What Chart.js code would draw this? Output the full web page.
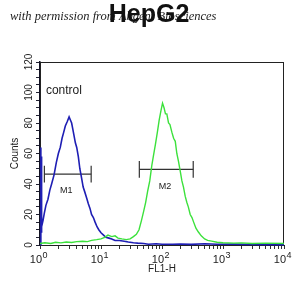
<!DOCTYPE html>
<html>
<head>
<meta charset="utf-8">
<script src="https://cdn.jsdelivr.net/npm/chart.js@4"></script>
<style>
  html, body { margin: 0; padding: 0; background: #fff; }
  #wrap { width: 305px; height: 296px; }
</style>
</head>
<body>
<div id="wrap"><canvas id="flowChart" width="305" height="296"></canvas></div>
<script>
// HepG2 flow histogram: control (blue) vs antibody (green)

const controlX = [1.02, 1.03, 1.036, 1.045, 1.055, 1.07, 1.12, 1.18, 1.25, 1.35, 1.45, 1.55, 1.7, 1.85, 2.0, 2.15, 2.3, 2.45, 2.6, 2.8, 3.0, 3.15, 3.3, 3.45, 3.6, 3.8, 4.0, 4.25, 4.5, 4.8, 5.1, 5.4, 5.8, 6.2, 6.6, 7.0, 7.5, 8.0, 8.6, 9.2, 10, 11, 12, 13.5, 15, 17, 20, 24, 28, 34, 40, 50, 60, 80, 100, 150, 200, 300, 500, 800, 1500, 3000, 10000]
const controlY = [0, 64, 12, 58, 8, 12, 16, 21, 26, 30, 36, 40, 46, 54, 60, 64, 70, 74, 78, 81, 84, 82, 80, 76, 72, 67, 64, 58, 50, 44, 38, 35, 31, 27, 24, 20, 18, 15, 12, 10, 8, 6.5, 5, 4.5, 4, 3, 3, 2.5, 2, 1.5, 1.2, 1, 0.5, 0.8, 0.5, 0.5, 0.7, 0.4, 0.8, 0.5, 0.6, 0.3, 0.2]

const sampleX = [1, 1.2, 1.5, 1.8, 2.2, 2.7, 3.3, 4, 5, 6, 7, 8.5, 10, 11.5, 13, 15, 17, 19, 22, 26, 30, 34, 38, 42, 46, 50, 54, 58, 63, 68, 72, 78, 84, 90, 96, 102, 108, 114, 120, 128, 135, 145, 155, 165, 175, 186, 200, 212, 225, 240, 255, 270, 290, 310, 330, 360, 395, 440, 500, 560, 650, 800, 1000, 1500, 2000, 3000, 5000, 10000]
const sampleY = [1, 1.5, 1, 1.8, 1.4, 2, 1.6, 2.2, 2.5, 2.2, 3, 3.5, 4, 5, 6.5, 5.5, 6, 4.5, 4, 3.5, 4, 5.5, 7, 10, 16, 22, 28, 35, 42, 52, 58, 66, 74, 82, 88, 93, 90, 86, 86, 80, 79, 74, 70, 68, 60, 55, 48, 42, 38, 32, 28, 25, 20, 18, 15, 11, 8.5, 6, 4, 3, 2.5, 1.8, 1.5, 1.2, 1.4, 1, 1.2, 1]

const xTicks = [1, 2, 3, 4, 5, 6, 7, 8, 9, 10, 20, 30, 40, 50, 60, 70, 80, 90, 100, 200, 300, 400, 500, 600, 700, 800, 900, 1000, 2000, 3000, 4000, 5000, 6000, 7000, 8000, 9000, 10000]
const xDecades = [1, 10, 100, 1000, 10000]
const xExponents = ["0", "1", "2", "3", "4"]

// markers: [from, to], level, and label position
const m1Range = [1.18, 6.9]
const m1Level = 46.5
const m2Range = [42.5, 325]
const m2Level = 49.6
const markerHalf = 5.5
const markerLabels = [
  { text: "M1", x: 2.7, y: 36 },
  { text: "M2", x: 112, y: 38.5 },
]

function pts(xs, ys) {
  return xs.map((x, i) => ({ x: x, y: ys[i] }))
}

function markerSets(range, level) {
  const base = { borderColor: "#333", borderWidth: 1.2, pointRadius: 0, showLine: true, fill: false }
  return [
    Object.assign({ data: [{ x: range[0], y: level }, { x: range[1], y: level }] }, base),
    Object.assign({ data: [{ x: range[0], y: level - markerHalf }, { x: range[0], y: level + markerHalf }] }, base),
    Object.assign({ data: [{ x: range[1], y: level - markerHalf }, { x: range[1], y: level + markerHalf }] }, base),
  ]
}

const decorPlugin = {
  id: "decor",
  beforeDraw(chart) {
    const ctx = chart.ctx
    ctx.save()
    ctx.fillStyle = "#fff"
    ctx.fillRect(0, 0, chart.width, chart.height)
    // watermark behind the title
    ctx.fillStyle = "#222"
    ctx.font = "italic 12.5px 'Liberation Serif'"
    ctx.textBaseline = "alphabetic"
    ctx.textAlign = "left"
    ctx.fillText("with permission from Abgent Biosciences", 10, 20)
    // title
    ctx.fillStyle = "#111"
    ctx.font = "bold 25px 'Liberation Sans'"
    ctx.textAlign = "center"
    ctx.fillText("HepG2", 149, 22)
    ctx.restore()
  },
  beforeDatasetsDraw(chart) {
    const ctx = chart.ctx
    const a = chart.chartArea
    ctx.save()
    ctx.strokeStyle = "#222"
    ctx.lineWidth = 1
    ctx.strokeRect(a.left + 0.5, a.top + 0.5, a.right - a.left - 1, a.bottom - a.top)
    ctx.restore()
  },
  afterDatasetsDraw(chart) {
    const ctx = chart.ctx
    const xs = chart.scales.x
    const ys = chart.scales.y
    ctx.save()
    ctx.fillStyle = "#222"
    ctx.font = "12px 'Liberation Sans'"
    ctx.textAlign = "left"
    ctx.textBaseline = "middle"
    ctx.fillText("control", xs.getPixelForValue(1.25), ys.getPixelForValue(101))
    ctx.font = "9px 'Liberation Sans'"
    ctx.textAlign = "center"
    markerLabels.forEach((m) => {
      ctx.fillText(m.text, xs.getPixelForValue(m.x), ys.getPixelForValue(m.y))
    })
    ctx.restore()
  },
  afterDraw(chart) {
    // decade labels as 10 with a raised exponent
    const ctx = chart.ctx
    const xs = chart.scales.x
    const base = chart.chartArea.bottom + 18
    ctx.save()
    ctx.fillStyle = "#222"
    ctx.textBaseline = "alphabetic"
    xDecades.forEach((v, i) => {
      const px = xs.getPixelForValue(v)
      ctx.font = "11px 'Liberation Sans'"
      ctx.textAlign = "right"
      ctx.fillText("10", px + 2, base)
      ctx.font = "9px 'Liberation Sans'"
      ctx.textAlign = "left"
      ctx.fillText(xExponents[i], px + 2.5, base - 5)
    })
    ctx.restore()
  },
}

new Chart(document.getElementById("flowChart"), {
  type: "scatter",
  data: {
    datasets: [
      {
        label: "sample",
        data: pts(sampleX, sampleY),
        borderColor: "rgb(60, 225, 60)",
        borderWidth: 1.4,
        pointRadius: 0,
        showLine: true,
        tension: 0,
        clip: false,
      },
      {
        label: "control",
        data: pts(controlX, controlY),
        borderColor: "rgb(30, 30, 180)",
        borderWidth: 1.6,
        pointRadius: 0,
        showLine: true,
        tension: 0,
        clip: false,
      },
      ...markerSets(m1Range, m1Level),
      ...markerSets(m2Range, m2Level),
    ],
  },
  options: {
    responsive: false,
    animation: false,
    layout: { padding: { top: 62, right: 21, left: 0, bottom: 0 } },
    plugins: {
      legend: { display: false },
      tooltip: { enabled: false },
    },
    scales: {
      x: {
        type: "logarithmic",
        min: 1,
        max: 10000,
        afterBuildTicks: (scale) => {
          scale.ticks = xTicks.map((v) => ({ value: v }))
        },
        afterFit: (scale) => {
          scale.height = 51
        },
        ticks: {
          autoSkip: false,
          maxRotation: 0,
          callback: () => "",
        },
        grid: { drawOnChartArea: false, tickLength: 4, color: "#333" },
        border: { color: "#222" },
        title: {
          display: true,
          text: "FL1-H",
          color: "#222",
          font: { family: "Liberation Sans", size: 10 },
          padding: { top: 0, bottom: 21 },
        },
      },
      y: {
        min: 0,
        max: 120,
        afterFit: (scale) => {
          scale.width = 40
        },
        ticks: {
          stepSize: 5,
          autoSkip: false,
          minRotation: 90,
          maxRotation: 90,
          crossAlign: "center",
          padding: -2,
          color: "#222",
          font: { family: "Liberation Sans", size: 10 },
          callback: (value) => (value % 20 === 0 ? String(value) : ""),
        },
        grid: { drawOnChartArea: false, tickLength: 4, color: "#223" },
        border: { color: "#112", width: 1.5 },
        title: {
          display: true,
          text: "Counts",
          color: "#222",
          font: { family: "Liberation Sans", size: 10 },
          padding: { top: 9, bottom: 0 },
        },
      },
    },
  },
  plugins: [decorPlugin],
})
</script>
</body>
</html>
